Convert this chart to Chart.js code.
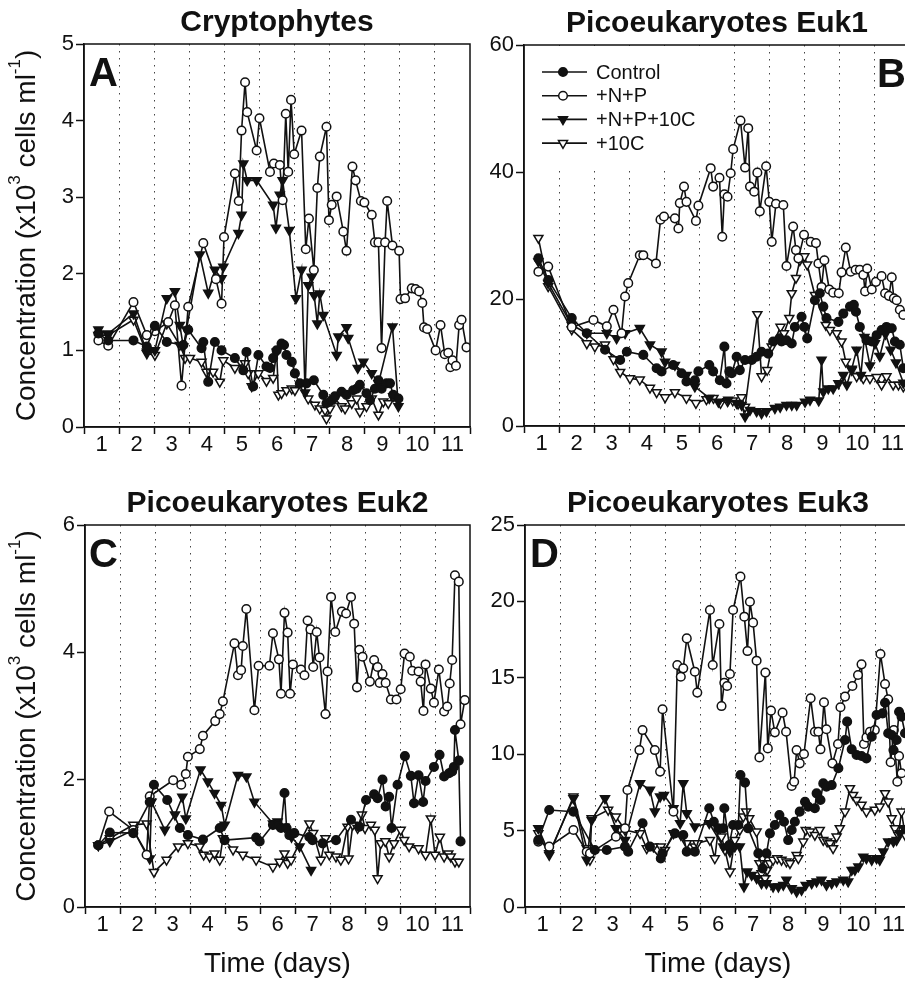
<!DOCTYPE html>
<html>
<head>
<title>Phytoplankton incubations</title>
<script src="https://cdn.jsdelivr.net/npm/chart.js@4.4.1/dist/chart.umd.min.js"></script>
<style>
body { margin:0; width:905px; height:984px; overflow:hidden; background:#fff; position:relative; }
canvas { position:absolute; }
</style>
</head>
<body>
<canvas id="chartA" width="480" height="490" style="left:0;top:0"></canvas>
<canvas id="chartB" width="440" height="490" style="left:480px;top:0"></canvas>
<canvas id="chartC" width="480" height="504" style="left:0;top:480px"></canvas>
<canvas id="chartD" width="440" height="504" style="left:480px;top:480px"></canvas>
<script>
// series names (legend)
var seriesNames = ['Control', '+N+P', '+N+P+10C', '+10C'];
var dayLabels = [1, 2, 3, 4, 5, 6, 7, 8, 9, 10, 11];

// A - Cryptophytes (x10^3 cells/ml)
var aCtrlDay = [0.91,1.19,1.91,2.29,2.52,2.86,3.33,3.47,3.85,3.9,4.04,4.23,4.42,4.8,5.04,5.13,5.32,5.47,5.7,5.8,5.89,5.99,6.13,6.2,6.27,6.42,6.51,6.65,6.84,7.05,7.32,7.41,7.56,7.65,7.84,7.98,8.17,8.27,8.36,8.55,8.65,8.79,8.89,8.98,9.12,9.22,9.31,9.46];
var aCtrlVal = [1.22,1.13,1.13,1.05,1.32,1.11,1.07,1.27,1.03,1.11,0.59,1.11,1.0,0.9,0.74,0.98,0.53,0.94,0.79,0.77,0.9,1.0,1.09,1.07,0.94,0.85,0.7,0.57,0.57,0.61,0.42,0.31,0.35,0.4,0.46,0.42,0.48,0.5,0.55,0.44,0.35,0.5,0.61,0.5,0.57,0.57,0.42,0.37];
var aNPDay = [0.91,1.19,1.91,2.29,2.52,2.9,3.09,3.28,3.47,3.9,4.26,4.42,4.49,4.8,4.91,4.99,5.09,5.15,5.42,5.5,5.8,5.91,6.08,6.16,6.25,6.32,6.4,6.49,6.7,6.82,6.91,7.05,7.15,7.22,7.41,7.48,7.56,7.7,7.89,7.98,8.15,8.24,8.39,8.49,8.7,8.79,8.89,8.98,9.08,9.14,9.29,9.48,9.52,9.65,9.84,9.95,10.05,10.14,10.19,10.28,10.52,10.66,10.78,10.88,10.94,11.0,11.1,11.19,11.26,11.4];
var aNPVal = [1.13,1.06,1.63,1.2,1.25,1.37,1.59,0.54,1.57,2.4,1.93,1.61,2.48,3.31,2.95,3.87,4.5,4.11,3.61,4.03,3.33,3.44,3.42,2.96,4.09,3.33,4.27,3.56,3.87,2.32,2.72,2.05,3.12,3.53,3.92,2.7,2.9,3.01,2.55,2.3,3.4,3.22,2.95,2.93,2.77,2.41,2.41,1.03,2.41,2.95,2.37,2.3,1.67,1.68,1.81,1.8,1.77,1.62,1.3,1.28,1.0,1.33,0.95,0.97,0.78,0.87,0.8,1.33,1.4,1.04];
var aNPCDay = [0.91,1.19,1.91,2.29,2.52,2.86,3.09,3.23,3.33,3.42,3.8,4.04,4.23,4.42,4.47,4.9,4.99,5.04,5.15,5.42,5.89,5.97,6.08,6.16,6.35,6.54,6.7,6.8,6.89,6.99,7.06,7.15,7.22,7.32,7.7,7.75,7.98,8.03,8.3,8.46,8.7,8.89,9.29,9.46];
var aNPCVal = [1.27,1.22,1.48,0.98,1.0,1.68,1.77,1.33,1.05,1.27,2.25,1.75,2.05,1.94,2.09,2.53,2.77,3.44,3.22,3.22,2.9,2.6,3.03,3.22,2.57,1.68,2.05,0.45,1.85,1.96,1.72,1.35,1.74,1.46,0.94,1.18,1.3,1.16,0.77,0.85,0.7,0.57,1.31,0.27];
var aCDay = [0.91,1.19,1.91,2.29,2.52,2.86,3.23,3.38,3.52,3.85,3.99,4.18,4.37,4.47,4.8,5.09,5.18,5.28,5.47,5.7,5.89,5.99,6.04,6.13,6.27,6.42,6.51,6.75,6.89,7.08,7.22,7.37,7.41,7.51,7.65,7.84,7.94,8.13,8.27,8.36,8.55,8.7,8.89,9.03,9.17,9.31];
var aCVal = [1.2,1.2,1.4,0.96,0.94,1.35,1.07,0.9,0.9,0.85,0.72,0.72,0.59,0.87,0.77,0.83,0.7,0.53,0.7,0.6,0.64,0.98,0.42,0.44,0.48,0.5,0.48,0.53,0.37,0.29,0.24,0.22,0.11,0.24,0.37,0.27,0.24,0.31,0.37,0.2,0.27,0.37,0.16,0.33,0.31,0.4];

// B - Picoeukaryotes Euk1
var bCtrlDay = [0.91,1.19,1.86,2.29,2.81,3.24,3.43,3.9,4.28,4.42,4.75,4.99,5.13,5.37,5.47,5.78,5.89,6.08,6.21,6.27,6.35,6.42,6.56,6.65,6.8,6.99,7.13,7.27,7.46,7.6,7.78,7.84,7.98,8.13,8.22,8.41,8.49,8.57,8.79,8.93,9.03,9.12,9.46,9.6,9.79,9.9,9.96,10.07,10.26,10.41,10.55,10.69,10.83,10.98,11.07,11.21,11.31];
var bCtrlVal = [26.4,23.0,17.0,14.6,12.0,10.4,11.7,11.2,9.1,8.6,9.6,8.3,7.0,7.2,8.6,9.6,8.6,7.2,12.5,6.7,8.6,8.3,10.9,8.8,10.4,10.4,10.9,11.7,11.4,13.3,13.8,13.3,13.5,13.0,15.6,17.2,15.6,13.8,19.8,20.9,18.8,17.0,16.4,17.7,18.8,19.1,18.0,15.6,13.5,13.3,14.3,15.1,15.6,15.4,13.3,12.8,9.1];
var bNPDay = [0.91,1.19,1.86,2.48,2.86,3.05,3.28,3.38,3.47,3.8,3.9,4.26,4.39,4.49,4.8,4.9,4.94,5.06,5.13,5.4,5.47,5.82,5.89,6.07,6.15,6.21,6.3,6.39,6.46,6.67,6.8,6.89,6.94,7.06,7.15,7.22,7.4,7.49,7.56,7.68,7.89,7.98,8.17,8.25,8.32,8.48,8.67,8.82,8.89,8.98,9.06,9.2,9.31,9.47,9.55,9.67,9.81,9.95,10.07,10.17,10.22,10.28,10.41,10.53,10.69,10.79,10.9,10.98,11.04,11.12,11.21,11.31];
var bNPVal = [24.3,25.1,15.6,16.7,15.7,18.3,14.6,20.4,22.5,26.9,26.9,25.6,32.5,33.0,32.7,31.1,35.1,37.7,35.3,32.3,34.7,40.6,37.7,39.1,29.8,36.5,36.1,39.8,43.6,48.1,40.7,46.9,37.7,36.9,39.9,33.8,40.9,35.3,29.0,35.0,34.8,25.2,31.4,27.7,26.4,30.1,29.0,28.8,25.6,21.9,26.1,21.5,21.0,20.9,24.2,28.1,24.3,24.6,24.6,23.8,21.2,24.8,21.5,22.7,23.6,20.9,20.5,23.4,20.1,19.8,18.3,17.5];
var bNPCDay = [0.91,1.19,1.86,2.29,2.86,3.14,3.38,3.8,4.09,4.42,4.52,4.8,5.13,5.37,5.78,6.04,6.32,6.56,6.7,6.8,6.94,7.13,7.27,7.41,7.65,7.8,7.98,8.13,8.27,8.51,8.65,8.9,8.98,9.03,9.17,9.31,9.46,9.6,9.7,9.84,9.98,10.1,10.2,10.36,10.5,10.64,10.8,10.95,11.1,11.31];
var bNPCVal = [25.9,22.5,15.9,14.6,14.6,13.8,14.6,15.4,12.8,11.7,10.1,9.6,8.0,6.2,4.4,3.8,4.1,3.6,3.3,1.5,2.5,2.3,2.0,2.3,2.8,3.0,3.3,3.3,3.3,3.8,4.1,4.0,10.4,5.4,5.9,5.9,6.7,8.0,6.5,9.0,12.0,8.0,14.0,9.5,13.0,11.0,14.5,12.0,10.0,6.8];
var bCDay = [0.91,1.19,1.86,2.29,2.52,2.81,3.05,3.24,3.52,3.8,4.09,4.28,4.52,4.8,5.13,5.4,5.7,5.9,6.1,6.3,6.45,6.6,6.7,6.8,7.15,7.27,7.43,7.56,7.81,7.91,8.06,8.13,8.25,8.36,8.49,8.57,8.79,9.1,9.22,9.41,9.55,9.67,9.84,9.98,10.17,10.36,10.55,10.69,10.83,11.02,11.17,11.31];
var bCVal = [29.6,22.0,15.2,13.0,12.5,12.8,10.5,8.5,7.5,7.3,6.0,5.3,4.5,5.3,4.4,3.6,4.2,4.4,3.6,3.9,4.0,3.5,4.5,3.0,17.6,7.8,8.8,12.5,15.6,14.6,17.0,20.9,23.3,26.1,26.7,25.4,20.6,15.9,15.1,14.6,13.3,10.1,8.8,7.8,7.5,7.5,7.7,6.5,7.8,6.5,6.5,6.2];

// C - Picoeukaryotes Euk2
var cCtrlDay = [0.88,1.21,1.88,2.35,2.47,2.85,3.21,3.44,3.87,4.35,4.49,5.39,5.49,5.87,6.01,6.1,6.2,6.26,6.34,6.48,6.91,7.0,7.29,7.67,8.1,8.34,8.53,8.76,8.86,9.0,9.09,9.19,9.26,9.43,9.64,9.81,9.9,10.03,10.16,10.23,10.47,10.63,10.76,10.9,10.99,11.04,11.07,11.18,11.23];
var cCtrlVal = [0.97,1.17,1.16,1.65,1.92,1.68,1.24,1.13,1.06,1.24,1.05,1.09,1.03,1.29,1.29,1.24,1.79,1.24,1.13,1.16,1.1,1.05,1.0,1.05,1.37,1.26,1.68,1.77,1.71,2.0,1.58,1.73,1.24,1.92,2.37,2.06,1.63,2.07,1.65,1.98,2.2,2.39,2.05,2.1,2.13,2.2,2.78,2.3,1.03];
var cNPDay = [0.88,1.19,1.88,2.26,2.35,3.02,3.25,3.38,3.44,3.78,3.87,4.22,4.35,4.44,4.77,4.87,4.96,5.01,5.11,5.34,5.46,5.77,5.87,6.04,6.1,6.2,6.29,6.36,6.44,6.67,6.77,6.86,6.94,7.02,7.12,7.2,7.37,7.43,7.53,7.65,7.84,7.96,8.1,8.19,8.27,8.34,8.43,8.64,8.76,8.86,8.92,9.0,9.09,9.24,9.4,9.52,9.63,9.78,9.85,10.03,10.09,10.17,10.23,10.38,10.47,10.61,10.76,10.85,10.92,10.99,11.07,11.18,11.23,11.35];
var cNPVal = [0.97,1.5,1.21,0.82,1.74,1.99,1.92,2.09,2.36,2.48,2.69,2.92,3.03,3.23,4.14,3.64,3.72,4.1,4.68,3.09,3.79,3.79,4.3,3.89,3.35,4.62,4.31,3.35,3.81,3.73,3.64,4.5,4.36,3.77,4.32,3.92,3.03,3.7,4.87,4.32,4.64,4.61,4.87,4.45,3.45,4.04,3.93,3.54,3.88,3.77,3.52,3.66,3.52,3.26,3.26,3.42,3.98,3.93,3.71,3.7,3.54,3.08,3.81,3.43,3.21,3.73,3.07,3.15,3.51,3.88,5.21,5.11,2.87,3.25];
var cNPCDay = [0.88,1.21,1.88,2.35,2.4,2.78,3.07,3.28,3.38,3.8,4.01,4.2,4.39,4.49,4.87,5.11,5.34,5.87,6.0,6.2,6.4,6.63,6.96];
var cNPCVal = [0.97,1.03,1.21,0.76,1.65,1.21,1.45,1.73,1.39,2.16,1.97,1.79,1.6,1.29,2.07,2.05,1.65,1.31,1.34,1.26,1.1,0.95,0.58];
var cCDay = [0.88,1.21,1.88,2.26,2.47,2.83,3.16,3.44,3.78,3.89,4.06,4.2,4.35,4.44,4.73,5.01,5.39,5.87,6.06,6.2,6.29,6.39,6.91,7.02,7.24,7.37,7.48,7.67,7.81,8.0,8.03,8.15,8.29,8.41,8.5,8.67,8.78,8.86,8.95,9.08,9.19,9.33,9.52,9.62,9.76,10.03,10.23,10.38,10.5,10.64,10.76,10.88,10.95,11.07,11.18];
var cCVal = [0.97,1.08,1.29,1.31,0.55,0.74,0.95,1.0,0.95,0.82,0.79,0.84,0.74,1.08,0.9,0.82,0.74,0.63,0.71,0.84,0.69,0.74,1.31,1.16,0.74,1.08,0.82,0.79,0.74,1.26,0.76,1.29,1.24,1.45,1.24,1.29,1.21,0.45,1.0,1.03,0.79,1.0,1.21,1.05,0.95,0.92,0.82,1.39,0.82,1.1,0.79,0.84,0.79,0.71,0.71];

// D - Picoeukaryotes Euk3
var dCtrlDay = [0.88,1.19,1.88,2.49,2.83,3.35,3.44,3.85,4.06,4.37,4.42,4.77,5.01,5.11,5.34,5.75,5.88,6.01,6.15,6.18,6.32,6.43,6.58,6.64,6.77,6.86,7.15,7.27,7.38,7.48,7.62,7.75,7.88,8.0,8.1,8.19,8.33,8.48,8.57,8.76,8.81,8.92,9.0,9.09,9.24,9.43,9.62,9.68,9.81,9.95,10.09,10.23,10.38,10.52,10.69,10.76,10.85,10.95,11.0,11.09,11.16,11.23,11.33];
var dCtrlVal = [4.38,6.35,6.24,3.73,3.73,3.95,3.62,5.48,3.95,3.18,3.51,4.82,4.71,3.62,3.62,6.46,5.58,5.15,5.15,6.46,4.06,5.37,5.37,8.64,8.14,5.15,3.51,2.53,3.51,4.82,5.37,6.02,5.58,4.38,5.04,5.58,6.24,6.89,6.57,6.46,7.44,7.0,8.09,7.88,7.98,9.08,10.93,12.13,10.32,9.95,9.88,9.73,11.15,12.57,12.67,13.37,11.37,11.26,10.27,10.93,12.78,12.46,11.37];
var dNPDay = [0.88,1.19,1.88,2.26,2.35,3.09,3.35,3.42,3.76,3.85,4.2,4.35,4.42,4.73,4.84,4.94,5.01,5.11,5.34,5.41,5.77,5.85,6.04,6.1,6.18,6.26,6.34,6.43,6.64,6.75,6.84,6.91,7.0,7.1,7.18,7.35,7.42,7.51,7.62,7.84,7.94,8.1,8.17,8.24,8.33,8.45,8.64,8.76,8.86,8.92,9.02,9.09,9.26,9.42,9.49,9.62,9.83,9.99,10.09,10.16,10.23,10.33,10.47,10.63,10.76,10.85,10.92,11.01,11.11,11.16,11.23];
var dNPVal = [4.28,3.95,5.04,3.62,3.51,4.6,5.15,7.66,10.27,11.58,10.27,8.86,12.94,6.24,15.84,15.07,15.62,17.58,15.4,14.03,19.44,15.84,18.52,13.15,14.68,14.46,15.25,19.44,21.62,19.0,16.75,19.98,18.61,16.12,9.79,15.34,10.38,12.85,11.43,12.72,11.47,7.92,8.2,10.27,9.4,10.01,13.66,11.47,11.47,10.32,13.39,11.63,9.4,10.67,13.07,13.77,14.46,15.18,15.88,10.67,11.1,11.47,11.58,16.56,14.59,13.59,9.47,11.58,8.2,9.88,8.75];
var dNPCDay = [0.88,1.19,1.88,2.26,2.4,2.78,3.09,3.35,3.78,4.06,4.2,4.35,4.46,4.73,4.92,5.01,5.11,5.34,5.75,6.15,6.34,6.48,6.62,6.74,6.83,6.96,7.1,7.24,7.38,7.57,7.72,7.86,7.95,8.1,8.24,8.38,8.5,8.67,8.81,8.95,9.09,9.24,9.38,9.57,9.71,9.81,9.9,10.0,10.14,10.23,10.38,10.52,10.61,10.71,10.85,11.0,11.09,11.18,11.3];
var dNPCVal = [5.15,3.51,7.11,3.08,5.69,7.11,5.15,4.38,8.09,7.66,6.24,7.22,7.33,6.46,5.48,8.09,6.13,5.26,5.48,3.95,3.62,3.95,3.95,1.33,2.31,2.09,1.88,1.55,1.55,1.33,1.33,1.44,1.77,1.22,1.0,1.11,1.44,1.55,1.66,1.77,1.44,1.55,1.66,1.77,1.66,2.42,2.42,2.64,3.29,3.18,3.08,3.18,3.08,3.62,4.28,4.28,4.38,4.82,5.15];
var dCDay = [0.88,1.19,1.88,2.26,2.35,2.4,2.87,3.09,3.35,3.78,3.97,4.16,4.37,4.49,4.73,4.94,5.11,5.34,5.41,5.77,5.91,6.01,6.1,6.2,6.34,6.48,6.62,6.72,6.8,6.89,7.1,7.18,7.24,7.34,7.4,7.48,7.57,7.69,7.81,7.95,8.05,8.24,8.29,8.43,8.5,8.62,8.76,8.9,9.0,9.11,9.19,9.28,9.38,9.47,9.62,9.76,9.85,9.95,10.09,10.23,10.47,10.61,10.76,10.85,10.95,11.04,11.14,11.23,11.33];
var dCVal = [4.82,3.4,7.22,3.84,3.08,5.8,6.35,5.91,5.04,4.82,3.84,3.95,3.95,3.73,4.82,4.71,4.17,3.95,4.17,4.38,3.18,5.15,4.6,3.73,2.31,4.38,5.04,5.91,6.24,5.8,4.93,2.86,2.2,1.88,2.42,2.86,3.08,3.18,3.08,2.97,2.86,3.4,3.18,4.28,5.04,4.93,4.71,5.04,4.38,4.28,4.17,3.84,4.6,5.15,6.24,7.77,7.33,7.0,6.68,6.24,6.35,6.57,7.44,6.89,5.8,5.15,4.71,6.24,4.71];

var FONT = '"Liberation Sans", Arial, Helvetica, sans-serif';
Chart.defaults.font.family = FONT;
Chart.defaults.color = '#111';

function pts(days, vals) {
    return days.map(function (d, i) { return {x: d, y: vals[i]}; });
}

// marker look for the four treatments
var looks = [
    {pointStyle: 'circle', pointRadius: 4.3, pointBackgroundColor: '#111', pointRotation: 0},
    {pointStyle: 'circle', pointRadius: 4.3, pointBackgroundColor: '#fff', pointRotation: 0},
    {pointStyle: 'triangle', pointRadius: 5.2, pointBackgroundColor: '#111', pointRotation: 180},
    {pointStyle: 'triangle', pointRadius: 5.2, pointBackgroundColor: '#fff', pointRotation: 180}
];

function makeSets(list) {
    return list.map(function (s, i) {
        return Object.assign({
            label: seriesNames[i],
            data: pts(s[0], s[1]),
            borderColor: '#111',
            borderWidth: 1.6,
            pointBorderColor: '#111',
            pointBorderWidth: 1.5,
            tension: 0,
            fill: false
        }, looks[i]);
    });
}

function drawRich(ctx, parts, size) {
    var w = 0;
    parts.forEach(function (p) {
        ctx.font = (p[1] ? Math.round(size * 0.62) : size) + 'px ' + FONT;
        w += ctx.measureText(p[0]).width;
    });
    var x = -w / 2;
    parts.forEach(function (p) {
        ctx.font = (p[1] ? Math.round(size * 0.62) : size) + 'px ' + FONT;
        ctx.fillText(p[0], x, p[1] ? -size * 0.42 : 0);
        x += ctx.measureText(p[0]).width;
    });
}

// frame, day labels, titles, panel letter, legend
var panelDecor = {
    id: 'panelDecor',
    beforeDatasetsDraw: function (chart, args, o) {
        if (!o.legend) return;
        var a = chart.chartArea, ctx = chart.ctx;
        ctx.save();
        ctx.fillStyle = '#fff';
        ctx.fillRect(a.left + 1, a.top + 1, 190, 123);
        ctx.restore();
    },
    afterDraw: function (chart, args, o) {
        var a = chart.chartArea, ctx = chart.ctx, xs = chart.scales.x;
        ctx.save();
        ctx.strokeStyle = '#111';
        ctx.lineWidth = 1.5;
        ctx.strokeRect(a.left, a.top, a.right - a.left, a.bottom - a.top);

        ctx.fillStyle = '#111';
        ctx.font = '22px ' + FONT;
        ctx.textAlign = 'center';
        ctx.textBaseline = 'middle';
        dayLabels.forEach(function (d) {
            ctx.fillText(String(d), xs.getPixelForValue(d), a.bottom + 18);
        });

        ctx.textBaseline = 'alphabetic';
        ctx.font = 'bold 30px ' + FONT;
        ctx.fillText(o.title, (a.left + a.right) / 2, a.top - 13);

        ctx.textAlign = 'left';
        ctx.font = 'bold 40px ' + FONT;
        ctx.fillText(o.letter, a.left + o.letterX, a.top + 42);

        if (o.xTitle) {
            ctx.textAlign = 'center';
            ctx.font = '28px ' + FONT;
            ctx.fillText('Time (days)', (a.left + a.right) / 2, a.bottom + 65);
        }
        if (o.yTitle) {
            ctx.save();
            ctx.translate(27, (a.top + a.bottom) / 2);
            ctx.rotate(-Math.PI / 2);
            ctx.textAlign = 'left';
            ctx.textBaseline = 'middle';
            drawRich(ctx, [['Concentration (x10', false], ['3', true], [' cells ml', false], ['-1', true], [')', false]], 28);
            ctx.restore();
        }
        if (o.legend) {
            var sets = chart.data.datasets;
            ctx.font = '20px ' + FONT;
            ctx.textAlign = 'left';
            ctx.textBaseline = 'middle';
            sets.forEach(function (ds, i) {
                var y = a.top + 27 + i * 23.7, x0 = a.left + 18;
                ctx.strokeStyle = '#111';
                ctx.lineWidth = 1.6;
                ctx.beginPath();
                ctx.moveTo(x0, y);
                ctx.lineTo(x0 + 45, y);
                ctx.stroke();
                ctx.fillStyle = ds.pointBackgroundColor;
                ctx.lineWidth = 1.5;
                Chart.helpers.drawPoint(ctx, {
                    pointStyle: ds.pointStyle, rotation: ds.pointRotation,
                    radius: ds.pointRadius, borderWidth: 1.5
                }, x0 + 21, y);
                ctx.fillStyle = '#111';
                ctx.fillText(ds.label, x0 + 54, y + 1);
            });
        }
        ctx.restore();
    }
};

function makeChart(id, opt) {
    var ticksX = [];
    for (var v = 0.5; v <= 11.5; v++) ticksX.push(v);
    return new Chart(document.getElementById(id), {
        type: 'line',
        data: {datasets: makeSets(opt.series)},
        plugins: [panelDecor],
        options: {
            responsive: false,
            animation: false,
            layout: {padding: {left: 0, top: opt.top, right: opt.right, bottom: 0}},
            plugins: {
                legend: {display: false},
                tooltip: {enabled: false},
                panelDecor: {title: opt.title, letter: opt.letter, letterX: opt.letterX,
                    yTitle: opt.yTitle, xTitle: opt.xTitle, legend: opt.legend}
            },
            scales: {
                x: {
                    type: 'linear', min: 0.5, max: 11.5,
                    afterBuildTicks: function (sc) { sc.ticks = ticksX.map(function (t) { return {value: t}; }); },
                    afterFit: function (sc) { sc.height = opt.xH; },
                    ticks: {autoSkip: false, callback: function () { return ''; }},
                    grid: {
                        color: function (c) {
                            return (c.tick && (c.tick.value === 0.5 || c.tick.value === 11.5)) ? 'rgba(0,0,0,0)' : '#444';
                        },
                        lineWidth: 1, tickLength: 7, tickColor: '#111', tickWidth: 1.5
                    },
                    border: {color: '#111', width: 1.5, dash: [1.5, 5.5]}
                },
                y: {
                    min: 0, max: opt.yMax,
                    afterFit: function (sc) { sc.width = opt.yW; },
                    ticks: {stepSize: opt.step, font: {size: 22}, padding: 2, color: '#111'},
                    grid: {drawOnChartArea: false, tickLength: 8, tickColor: '#111', tickWidth: 1.5},
                    border: {color: '#111', width: 1.5}
                }
            }
        }
    });
}

makeChart('chartA', {
    series: [[aCtrlDay, aCtrlVal], [aNPDay, aNPVal], [aNPCDay, aNPCVal], [aCDay, aCVal]],
    title: 'Cryptophytes', letter: 'A', letterX: 5, yTitle: true, xTitle: false, legend: false,
    top: 44, right: 10, xH: 63, yW: 84, yMax: 5, step: 1
});
makeChart('chartB', {
    series: [[bCtrlDay, bCtrlVal], [bNPDay, bNPVal], [bNPCDay, bNPCVal], [bCDay, bCVal]],
    title: 'Picoeukaryotes Euk1', letter: 'B', letterX: 353, yTitle: false, xTitle: false, legend: true,
    top: 45, right: 10, xH: 64, yW: 44, yMax: 60, step: 20
});
makeChart('chartC', {
    series: [[cCtrlDay, cCtrlVal], [cNPDay, cNPVal], [cNPCDay, cNPCVal], [cCDay, cCVal]],
    title: 'Picoeukaryotes Euk2', letter: 'C', letterX: 4, yTitle: true, xTitle: true, legend: false,
    top: 45, right: 10, xH: 77, yW: 85, yMax: 6, step: 2
});
makeChart('chartD', {
    series: [[dCtrlDay, dCtrlVal], [dNPDay, dNPVal], [dNPCDay, dNPCVal], [dCDay, dCVal]],
    title: 'Picoeukaryotes Euk3', letter: 'D', letterX: 5, yTitle: false, xTitle: true, legend: false,
    top: 45, right: 9, xH: 77, yW: 45, yMax: 25, step: 5
});
</script>
</body>
</html>
